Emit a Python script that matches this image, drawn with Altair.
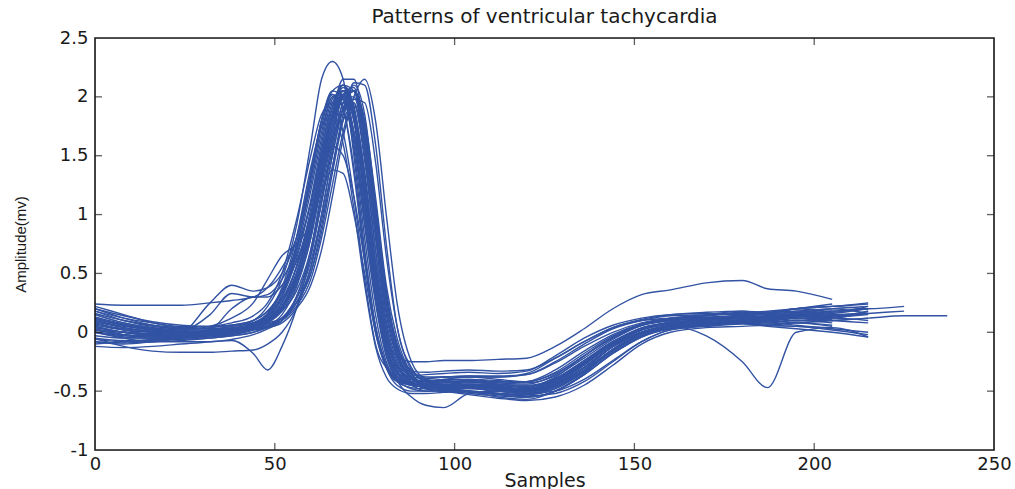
import altair as alt
import pandas as pd

# sample positions shared by all beats
x_grid = [0, 8, 16, 24, 32, 38, 44, 48, 52, 56, 60, 63, 66, 69, 72, 75, 78, 81, 84, 88,
          92, 97, 104, 112, 120, 128, 136, 144, 152, 160, 170, 180, 187, 195, 205, 215, 225, 237]

# amplitude (mV) of each beat at the sample positions above (shorter lists end earlier)
s01 = [0.12,0.06,0.02,0.0,0.02,0.05,0.1,0.22,0.45,0.9,1.6,2.15,2.3,2.15,1.5,0.7,0.05,-0.3,-0.45,-0.5,-0.5,-0.48,-0.46,-0.48,-0.5,-0.44,-0.3,-0.12,0.0,0.06,0.1,0.13,0.12,0.15,0.12,0.18]
s02 = [0.24,0.23,0.23,0.23,0.25,0.27,0.3,0.38,0.55,0.8,1.3,1.75,2.05,2.1,1.8,1.1,0.35,-0.15,-0.3,-0.33,-0.34,-0.33,-0.32,-0.33,-0.32,-0.22,-0.08,0.04,0.11,0.15,0.17,0.18,0.16,0.2,0.22,0.24]
s03 = [0.05,0.0,-0.02,0.0,0.25,0.4,0.35,0.38,0.5,0.8,1.35,1.8,2.05,2.0,1.55,0.8,0.15,-0.25,-0.4,-0.45,-0.46,-0.45,-0.45,-0.47,-0.48,-0.4,-0.24,-0.08,0.03,0.08,0.1,0.12,0.1,0.13,0.14]
s04 = [0.0,-0.03,-0.04,0.0,0.15,0.33,0.3,0.32,0.45,0.7,1.1,1.55,1.95,2.05,1.9,1.35,0.6,0.0,-0.28,-0.42,-0.48,-0.5,-0.51,-0.53,-0.55,-0.5,-0.36,-0.18,-0.04,0.03,0.06,0.08,0.1,0.12,0.13,0.16]
s05 = [0.08,0.02,0.0,-0.02,0.02,0.2,0.3,0.3,0.4,0.6,0.9,1.3,1.7,2.0,2.05,1.7,1.0,0.3,-0.1,-0.33,-0.38,-0.38,-0.37,-0.38,-0.36,-0.25,-0.1,0.03,0.1,0.14,0.15,0.16,0.17,0.15,0.18]
s06 = [0.0,-0.05,-0.08,-0.08,-0.08,-0.07,-0.18,-0.32,-0.12,0.2,0.65,1.1,1.55,1.9,1.95,1.5,0.7,0.05,-0.28,-0.42,-0.47,-0.48,-0.5,-0.52,-0.53,-0.45,-0.3,-0.12,0.0,0.05,0.08,0.1,0.08,0.1,0.1]
s07 = [-0.05,-0.12,-0.16,-0.17,-0.17,-0.16,-0.15,-0.1,0.0,0.2,0.55,1.0,1.5,1.9,2.05,1.75,1.05,0.3,-0.15,-0.38,-0.45,-0.47,-0.5,-0.55,-0.57,-0.5,-0.35,-0.15,-0.02,0.04,0.06,0.08,0.06,0.08,0.05]
s08 = [0.15,0.08,0.04,0.02,0.02,0.03,0.05,0.08,0.12,0.25,0.5,0.9,1.4,1.85,2.1,1.85,1.1,0.35,-0.15,-0.38,-0.44,-0.45,-0.46,-0.48,-0.5,-0.44,-0.3,-0.12,0.0,0.06,0.1,0.12,0.13,0.14,0.15,0.16]
s09 = [0.02,0.0,-0.02,-0.03,-0.02,0.0,0.02,0.04,0.08,0.2,0.4,0.7,1.15,1.65,2.0,2.15,1.8,1.0,0.25,-0.25,-0.4,-0.45,-0.44,-0.46,-0.49,-0.43,-0.28,-0.1,0.02,0.08,0.1,0.1,0.12,0.14,0.1,0.12,0.14,0.14]
s10 = [0.1,0.05,0.02,0.0,0.0,0.02,0.04,0.07,0.12,0.25,0.5,0.85,1.35,1.8,2.12,2.1,1.6,0.75,0.05,-0.3,-0.42,-0.46,-0.47,-0.5,-0.52,-0.46,-0.32,-0.12,0.0,0.05,0.08,0.1,0.12,0.1,0.12]
s11 = [0.2,0.12,0.06,0.03,0.04,0.06,0.1,0.18,0.35,0.6,0.95,1.2,1.38,1.35,1.0,0.5,0.0,-0.3,-0.4,-0.42,-0.4,-0.38,-0.38,-0.38,-0.35,-0.22,-0.08,0.04,0.1,0.12,0.13,0.14,0.12,0.15,0.13]
s12 = [0.0,-0.04,-0.05,-0.04,-0.02,0.0,0.04,0.1,0.25,0.5,0.9,1.3,1.58,1.5,1.15,0.6,0.05,-0.28,-0.4,-0.45,-0.5,-0.5,-0.52,-0.54,-0.55,-0.5,-0.36,-0.18,-0.04,0.04,0.07,0.08,0.06,0.05,0.02,-0.02]
s13 = [0.18,0.12,0.08,0.05,0.05,0.06,0.1,0.18,0.35,0.65,1.1,1.5,1.85,2.0,1.8,1.2,0.5,-0.05,-0.2,-0.25,-0.25,-0.24,-0.24,-0.23,-0.22,-0.12,0.03,0.2,0.32,0.36,0.42,0.44,0.37,0.35,0.28]
s14 = [0.06,0.02,0.0,-0.01,0.0,0.02,0.05,0.1,0.22,0.48,0.95,1.45,1.85,2.02,1.82,1.2,0.45,-0.1,-0.34,-0.43,-0.45,-0.45,-0.44,-0.46,-0.48,-0.41,-0.26,-0.1,0.0,0.05,-0.03,-0.25,-0.47,0.0,0.04,-0.04]
s15 = [0.1,0.04,0.0,-0.02,-0.02,0.0,0.05,0.12,0.3,0.7,1.3,1.8,2.02,1.9,1.35,0.6,0.0,-0.3,-0.42,-0.45,-0.46,-0.45,-0.46,-0.48,-0.49,-0.42,-0.27,-0.1,0.02,0.08,0.11,0.12,0.13,0.15,0.14,0.18]
s16 = [-0.08,-0.1,-0.08,-0.05,-0.03,-0.02,0.02,0.06,0.12,0.28,0.6,1.0,1.5,1.9,2.05,1.8,1.15,0.4,-0.05,-0.35,-0.45,-0.48,-0.48,-0.5,-0.52,-0.5,-0.4,-0.24,-0.08,0.02,0.06,0.08,0.1,0.08,0.1,0.12]
s17 = [0.05,0.0,-0.03,-0.04,-0.03,-0.01,0.03,0.1,0.25,0.55,1.0,1.45,1.85,2.08,1.9,1.3,0.55,-0.05,-0.3,-0.38,-0.39,-0.38,-0.37,-0.37,-0.36,-0.26,-0.12,0.0,0.08,0.12,0.14,0.17,0.15,0.18,0.2,0.22]
s18 = [0.22,0.15,0.08,0.04,0.03,0.04,0.07,0.12,0.22,0.45,0.85,1.3,1.75,2.05,2.05,1.65,0.9,0.2,-0.2,-0.38,-0.42,-0.41,-0.4,-0.42,-0.42,-0.34,-0.18,-0.03,0.06,0.1,0.12,0.14,0.15,0.17,0.15]
s19 = [-0.1,-0.08,-0.06,-0.05,-0.03,-0.01,0.02,0.05,0.12,0.3,0.65,1.1,1.6,1.95,2.05,1.75,1.05,0.3,-0.12,-0.36,-0.44,-0.47,-0.46,-0.49,-0.51,-0.45,-0.3,-0.12,0.0,0.05,0.08,0.1,0.12,0.1,0.12,0.1]
s20 = [0.08,0.02,-0.02,-0.03,-0.02,0.0,0.04,0.1,0.2,0.45,0.9,1.4,1.8,2.02,1.85,1.25,0.5,-0.1,-0.4,-0.55,-0.62,-0.64,-0.52,-0.5,-0.5,-0.44,-0.3,-0.12,0.0,0.06,0.09,0.12,0.11,0.13,0.14]
s21 = [0.0,-0.02,-0.03,-0.02,0.0,0.02,0.06,0.15,0.35,0.75,1.35,1.8,2.02,1.9,1.4,0.65,0.05,-0.28,-0.42,-0.47,-0.48,-0.47,-0.46,-0.48,-0.5,-0.45,-0.32,-0.15,-0.02,0.05,0.08,0.1,0.1,0.12,0.11]
s22 = [0.15,0.08,0.04,0.02,0.05,0.12,0.25,0.45,0.65,0.75,0.95,1.35,1.8,2.05,1.85,1.25,0.5,-0.08,-0.35,-0.44,-0.46,-0.45,-0.45,-0.47,-0.48,-0.4,-0.25,-0.08,0.03,0.08,0.1,0.12,0.12,0.14,0.13]
s23 = [0.03,-0.02,-0.05,-0.06,-0.05,-0.03,0.0,0.05,0.15,0.38,0.8,1.3,1.75,2.0,2.0,1.55,0.8,0.1,-0.25,-0.42,-0.48,-0.5,-0.53,-0.56,-0.58,-0.55,-0.45,-0.28,-0.1,0.0,0.04,0.05,0.06,0.05,0.04]
s24 = [0.18,0.1,0.05,0.03,0.03,0.05,0.08,0.14,0.28,0.55,1.0,1.5,1.9,2.1,1.92,1.35,0.6,0.0,-0.3,-0.4,-0.42,-0.4,-0.38,-0.4,-0.42,-0.35,-0.2,-0.04,0.07,0.12,0.15,0.18,0.17,0.2,0.22,0.2,0.22]
s25 = [-0.05,-0.07,-0.07,-0.06,-0.04,-0.02,0.02,0.08,0.2,0.45,0.85,1.3,1.65,1.85,1.7,1.2,0.5,-0.05,-0.32,-0.43,-0.47,-0.48,-0.5,-0.53,-0.55,-0.5,-0.36,-0.17,-0.03,0.03,0.06,0.08,0.07,0.08,0.06]
s26 = [0.12,0.06,0.02,0.0,0.0,0.02,0.05,0.1,0.22,0.5,0.95,1.45,1.85,2.0,1.8,1.15,0.4,-0.12,-0.35,-0.43,-0.44,-0.43,-0.42,-0.45,-0.47,-0.39,-0.24,-0.08,0.04,0.08,0.11,0.13,0.14,0.16,0.18,0.2]
s27 = [0.02,0.0,-0.01,-0.01,0.0,0.02,0.05,0.1,0.2,0.42,0.85,1.35,1.85,2.15,2.15,1.7,0.95,0.25,-0.18,-0.38,-0.44,-0.45,-0.45,-0.47,-0.49,-0.42,-0.27,-0.09,0.02,0.07,0.1,0.12,0.13,0.15,0.14,0.16,0.18]
s28 = [-0.12,-0.13,-0.12,-0.1,-0.08,-0.06,-0.02,0.03,0.1,0.3,0.7,1.2,1.65,1.98,1.95,1.45,0.7,0.05,-0.28,-0.42,-0.46,-0.46,-0.47,-0.5,-0.52,-0.47,-0.33,-0.14,-0.01,0.05,0.08,0.09,0.1,0.12,0.1,0.08]
s29 = [0.16,0.1,0.06,0.04,0.05,0.08,0.14,0.25,0.5,0.95,1.5,1.85,1.95,1.7,1.15,0.45,-0.1,-0.3,-0.36,-0.37,-0.36,-0.35,-0.34,-0.35,-0.33,-0.2,-0.05,0.06,0.12,0.15,0.16,0.15,0.17,0.2,0.24]
s30 = [0.04,0.0,-0.02,-0.02,-0.01,0.01,0.03,0.05,0.1,0.22,0.45,0.8,1.25,1.7,1.98,1.95,1.45,0.65,0.05,-0.32,-0.42,-0.44,-0.43,-0.44,-0.46,-0.4,-0.26,-0.1,0.02,0.08,0.1,0.12,0.14,0.16,0.2,0.16]
s31 = [0.13,0.07,0.03,0.01,0.01,0.03,0.07,0.14,0.3,0.62,1.12,1.6,1.98,2.05,1.7,1.0,0.3,-0.2,-0.4,-0.48,-0.5,-0.5,-0.5,-0.52,-0.54,-0.52,-0.42,-0.25,-0.08,0.02,0.05,0.07,0.05,0.03,0.0,-0.04]
s32 = [-0.03,-0.05,-0.05,-0.04,-0.02,0.0,0.04,0.08,0.18,0.4,0.8,1.25,1.7,2.02,2.08,1.6,0.85,0.15,-0.22,-0.4,-0.44,-0.45,-0.44,-0.45,-0.46,-0.38,-0.2,-0.04,0.06,0.1,0.12,0.14,0.16,0.2,0.18,0.2]
s33 = [0.07,0.03,0.01,0.0,0.01,0.03,0.08,0.16,0.35,0.72,1.25,1.7,2.0,1.98,1.6,0.9,0.25,-0.2,-0.38,-0.43,-0.43,-0.42,-0.41,-0.43,-0.44,-0.36,-0.2,-0.05,0.06,0.1,0.12,0.13,0.11,0.14,0.16,0.2]
s34 = [-0.08,-0.09,-0.08,-0.07,-0.05,-0.03,0.0,0.04,0.1,0.25,0.55,0.95,1.4,1.8,1.92,1.65,1.0,0.3,-0.12,-0.38,-0.46,-0.49,-0.5,-0.52,-0.53,-0.48,-0.34,-0.16,-0.02,0.04,0.07,0.09,0.11,0.1,0.12]
s35 = [0.09,0.04,0.01,0.0,0.01,0.03,0.06,0.12,0.26,0.56,1.05,1.55,1.92,2.1,1.85,1.2,0.45,-0.1,-0.33,-0.4,-0.41,-0.4,-0.4,-0.41,-0.43,-0.37,-0.22,-0.06,0.06,0.11,0.14,0.16,0.18,0.2,0.22,0.25]
s36 = [0.02,-0.02,-0.04,-0.04,-0.02,0.01,0.06,0.16,0.38,0.8,1.4,1.75,1.85,1.6,1.05,0.4,-0.12,-0.38,-0.48,-0.52,-0.52,-0.51,-0.5,-0.52,-0.53,-0.47,-0.33,-0.15,-0.02,0.04,0.07,0.08,0.09,0.1,0.08]
s37 = [0.2,0.14,0.09,0.06,0.05,0.06,0.08,0.11,0.18,0.35,0.7,1.15,1.6,1.95,2.05,1.78,1.1,0.35,-0.1,-0.34,-0.4,-0.42,-0.42,-0.44,-0.45,-0.4,-0.26,-0.09,0.03,0.09,0.12,0.14,0.16,0.18,0.17,0.22]
s38 = [-0.06,-0.08,-0.07,-0.05,-0.03,-0.01,0.03,0.09,0.22,0.5,0.98,1.45,1.82,1.95,1.7,1.05,0.35,-0.15,-0.37,-0.44,-0.46,-0.46,-0.46,-0.48,-0.5,-0.44,-0.3,-0.12,0.0,0.05,0.07,0.09,0.08,0.06,0.03,0.0]
s39 = [0.11,0.06,0.03,0.01,0.01,0.03,0.06,0.1,0.2,0.44,0.88,1.38,1.85,2.1,2.05,1.6,0.85,0.18,-0.2,-0.39,-0.45,-0.47,-0.47,-0.48,-0.5,-0.43,-0.28,-0.1,0.02,0.07,0.1,0.11,0.13,0.15,0.13,0.15]
s40 = [0.04,0.0,-0.02,-0.02,-0.01,0.02,0.06,0.14,0.32,0.68,1.2,1.65,2.0,2.02,1.65,0.95,0.28,-0.18,-0.38,-0.44,-0.44,-0.43,-0.42,-0.43,-0.42,-0.32,-0.16,-0.02,0.07,0.11,0.12,0.14,0.12,0.16,0.14]

beats = [s01, s02, s03, s04, s05, s06, s07, s08, s09, s10, s11, s12, s13, s14, s15, s16, s17,
         s18, s19, s20, s21, s22, s23, s24, s25, s26, s27, s28, s29, s30, s31, s32, s33, s34,
         s35, s36, s37, s38, s39, s40]

x_ticks = [0, 50, 100, 150, 200, 250]
y_ticks = [-1, -0.5, 0, 0.5, 1, 1.5, 2, 2.5]
x_inner_ticks = [50, 100, 150, 200]
y_inner_ticks = [-0.5, 0, 0.5, 1, 1.5, 2]

rows = []
for i, beat in enumerate(beats):
    for xv, yv in zip(x_grid, beat):
        rows.append({"beat": f"b{i+1:02d}", "sample": xv, "amp": yv})
df = pd.DataFrame(rows)

W, H = 899, 412
FONT = "DejaVu Sans"
NARROW = "Liberation Sans"
BLUE = "#3253A3"
INK = "#1a1a1a"

xscale = alt.Scale(domain=[0, 250], nice=False, zero=False)
yscale = alt.Scale(domain=[-1, 2.5], nice=False, zero=False)

lines = alt.Chart(df).mark_line(
    color=BLUE, strokeWidth=1.4, interpolate="monotone", clip=True
).encode(
    x=alt.X("sample:Q", scale=xscale,
            axis=alt.Axis(values=x_ticks, title="Samples", tickSize=0, labelPadding=5,
                          labelExpr="datum.value", labelFlush=False, domain=False, grid=False,
                          labelFontSize=18, titleFontSize=19, titleFontWeight="normal",
                          titleY=30, titleBaseline="middle", labelColor=INK, titleColor=INK,
                          labelFont=FONT, titleFont=FONT)),
    y=alt.Y("amp:Q", scale=yscale,
            axis=alt.Axis(values=y_ticks, title="Amplitude(mv)", tickSize=0, labelPadding=7,
                          labelExpr="datum.value", labelFlush=False, domain=False, grid=False,
                          labelFontSize=18, titleFontSize=15, titleFontWeight="normal",
                          titleX=-75, titleY=H / 2, titleBaseline="middle",
                          labelColor=INK, titleColor=INK, labelFont=FONT, titleFont=NARROW)),
    detail="beat:N",
)

xt = pd.DataFrame({"t": x_inner_ticks})
yt = pd.DataFrame({"t": y_inner_ticks})

tick_bottom = alt.Chart(xt).mark_tick(orient="vertical", size=7, thickness=1.3, color=INK).encode(
    x=alt.X("t:Q", scale=xscale), y=alt.value(H - 3.5))
tick_top = alt.Chart(xt).mark_tick(orient="vertical", size=7, thickness=1.3, color=INK).encode(
    x=alt.X("t:Q", scale=xscale), y=alt.value(3.5))
tick_left = alt.Chart(yt).mark_tick(orient="horizontal", size=7, thickness=1.3, color=INK).encode(
    y=alt.Y("t:Q", scale=yscale), x=alt.value(3.5))
tick_right = alt.Chart(yt).mark_tick(orient="horizontal", size=7, thickness=1.3, color=INK).encode(
    y=alt.Y("t:Q", scale=yscale), x=alt.value(W - 3.5))

frame = alt.Chart(pd.DataFrame({"f": [1]})).mark_rect(
    filled=False, stroke=INK, strokeWidth=1.6
).encode(x=alt.value(0), x2=alt.value(W), y=alt.value(0), y2=alt.value(H))

chart = alt.layer(lines, tick_bottom, tick_top, tick_left, tick_right, frame).properties(
    width=W, height=H,
    title=alt.TitleParams("Patterns of ventricular tachycardia", font=FONT, fontSize=20,
                          fontWeight="normal", color=INK, offset=2),
    autosize=alt.AutoSizeParams(type="none"),
    padding={"left": 95, "top": 38, "right": 21, "bottom": 39},
).configure_view(strokeWidth=0).configure(background="white")

chart.save("out.html", embed_options={"renderer": "svg", "actions": False})
